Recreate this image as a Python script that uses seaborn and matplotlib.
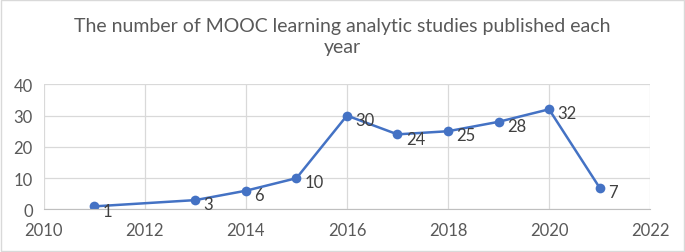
import matplotlib
matplotlib.use('Agg')
import matplotlib.pyplot as plt
import seaborn as sns
import pandas as pd

years = [2011, 2013, 2014, 2015, 2016, 2017, 2018, 2019, 2020, 2021]
counts = [1, 3, 6, 10, 30, 24, 25, 28, 32, 7]
title = 'The number of MOOC learning analytic studies published each\nyear'

df = pd.DataFrame({'year': years, 'count': counts})

sns.set_style('whitegrid')
plt.rcParams['font.family'] = ['Lato', 'DejaVu Sans']

fig = plt.figure(figsize=(6.85, 2.53), dpi=100)
ax = fig.add_axes([0.064, 0.168, 0.885, 0.495])

sns.lineplot(x='year', y='count', data=df, ax=ax, color='#4472C4',
             marker='o', markersize=7, markeredgewidth=0, linewidth=1.8)

for x, y in zip(years, counts):
    ax.annotate(str(y), (x, y), xytext=(6, -3), textcoords='offset points',
                fontsize=12, color='#404040', va='center', ha='left')

ax.set_xlim(2010, 2022)
ax.set_ylim(0, 40)
ax.set_xticks(range(2010, 2023, 2))
ax.set_yticks(range(0, 41, 10))
ax.set_xlabel('')
ax.set_ylabel('')
ax.tick_params(axis='both', labelsize=12, labelcolor='#595959', length=0)
ax.tick_params(axis='x', pad=9)
ax.tick_params(axis='y', pad=8)
ax.grid(True, color='#D9D9D9', linewidth=0.9)
for s in ['top', 'right', 'left']:
    ax.spines[s].set_visible(False)
ax.spines['bottom'].set_color('#BFBFBF')

fig.text(0.5, 0.93, title, ha='center', va='top', fontsize=14,
         color='#595959', linespacing=1.3)

fig.patches.append(plt.Rectangle((0.002, 0.004), 0.996, 0.992, transform=fig.transFigure,
                                 fill=False, edgecolor='#D9D9D9', linewidth=1))

fig.savefig('out.png', dpi=100)
